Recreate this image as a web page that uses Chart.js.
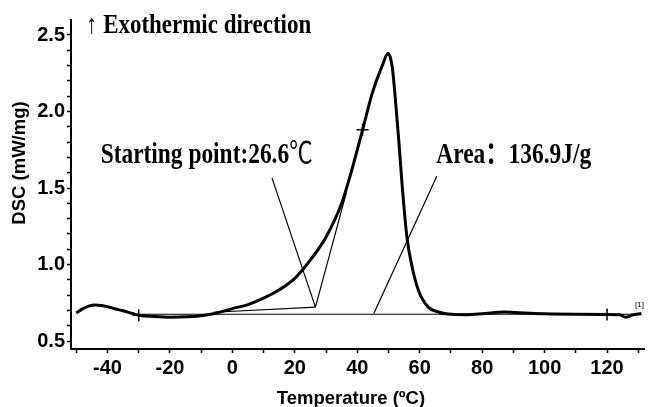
<!DOCTYPE html>
<html lang="en">

<head>
    <meta charset="UTF-8">
    <title>DSC curve</title>
    <script src="https://cdn.jsdelivr.net/npm/chart.js@4/dist/chart.umd.min.js"></script>
</head>
<style>
    body {
        margin: 0;
        background: #fff;
    }
</style>

<body>
    <canvas id="mychart" width="652" height="407"></canvas>
    <script>
        // DSC curve
        const tempC = [-50, -48, -46, -44, -42, -40, -38, -35, -32, -30, -25, -20, -15, -10, -5, 0, 5, 10, 15, 20, 25, 30,
            35, 38, 41.7, 44.8, 48, 49.9, 51.2, 52.2, 53.3, 54.4, 55.9, 57.5, 59.6, 62.8, 66, 69, 75, 80, 87, 95, 100, 110,
            120, 124, 126, 128, 131]
        const dscVal = [0.683, 0.71, 0.728, 0.735, 0.733, 0.725, 0.713, 0.698, 0.68, 0.668, 0.66, 0.656, 0.658, 0.666, 0.683,
            0.712, 0.738, 0.78, 0.835, 0.91, 1.03, 1.18, 1.40, 1.60, 1.88, 2.12, 2.30, 2.38, 2.29, 2.08, 1.81, 1.51, 1.18,
            0.99, 0.83, 0.72, 0.69, 0.676, 0.672, 0.678, 0.69, 0.682, 0.678, 0.675, 0.674, 0.672, 0.656, 0.67, 0.68]

        // "+" marks on the curve
        const crossT = [-30, 41.7, 120]
        const crossV = [0.668, 1.88, 0.674]

        // construction lines
        const baseT = [-30, 131]
        const baseV = [0.675, 0.675]
        const onsetT = [-6, 26.6]
        const onsetV = [0.688, 0.722]
        const tangentT = [26.6, 36.5]
        const tangentV = [0.722, 1.47]
        const leadStartT = [12.7, 26.6]
        const leadStartV = [1.565, 0.722]
        const leadAreaT = [65.5, 45.3]
        const leadAreaV = [1.578, 0.68]

        // axis ticks
        const xMin = -51.7, xMax = 132, xStep = 10, xLabelEvery = 20
        const yMin = 0.448, yMax = 2.598, yStep = 0.1, yLabelEvery = 0.5

        function pts(xs, ys) {
            let out = []
            for (let i = 0; i < xs.length; i++) {
                out.push({ x: xs[i], y: ys[i] })
            }
            return out
        }

        function thin(xs, ys) {
            return {
                data: pts(xs, ys),
                borderColor: '#000',
                borderWidth: 1.2,
                pointRadius: 0,
                tension: 0
            }
        }

        const tickFont = { family: "'Liberation Sans', Arial", size: 20, weight: 'bold' }
        const serif = "'Liberation Serif', 'Noto Sans CJK SC', serif"

        // text notes, anchored in data units; tail is drawn in normal weight
        const notes = [
            { text: '↑ Exothermic direction', tail: '', t: -46.9, v: 2.513, size: 27, sx: 0.85 },
            { text: 'Starting point:26.6', tail: '℃', t: -42.2, v: 1.663, size: 30, sx: 0.78 },
            { text: 'Area：136.9J/g', tail: '', t: 65.3, v: 1.663, size: 30, sx: 0.78 }
        ]

        const notesPlugin = {
            id: 'notes',
            afterDraw(chart) {
                const ctx = chart.ctx
                const xs = chart.scales.x
                const ys = chart.scales.y
                ctx.save()
                ctx.fillStyle = '#000'
                ctx.textBaseline = 'alphabetic'
                ctx.textAlign = 'left'
                notes.forEach(n => {
                    ctx.save()
                    ctx.translate(xs.getPixelForValue(n.t), ys.getPixelForValue(n.v))
                    ctx.scale(n.sx, 1)
                    ctx.font = 'bold ' + n.size + 'px ' + serif
                    ctx.fillText(n.text, 0, 0)
                    if (n.tail) {
                        const w = ctx.measureText(n.text).width
                        ctx.font = n.size + 'px ' + serif
                        ctx.fillText(n.tail, w, 0)
                    }
                    ctx.restore()
                })
                // little [1] marker at the end of the run
                ctx.font = '8px Arial'
                ctx.textAlign = 'center'
                ctx.fillText('[1]', xs.getPixelForValue(130.4), ys.getPixelForValue(0.72))

                // axis titles
                ctx.font = "bold 18.5px 'Liberation Sans', Arial"
                ctx.fillText('Temperature (ºC)', 351, 404)
                ctx.translate(25, 163)
                ctx.rotate(-Math.PI / 2)
                ctx.fillText('DSC (mW/mg)', 0, 0)
                ctx.restore()
            }
        }

        var ctx = document.getElementById('mychart')
        var myChart = new Chart(ctx, {
            type: 'line',
            data: {
                datasets: [
                    {
                        data: pts(tempC, dscVal),
                        borderColor: '#000',
                        borderWidth: 3,
                        pointRadius: 0,
                        cubicInterpolationMode: 'monotone'
                    },
                    thin(baseT, baseV),
                    thin(onsetT, onsetV),
                    thin(tangentT, tangentV),
                    thin(leadStartT, leadStartV),
                    thin(leadAreaT, leadAreaV),
                    {
                        data: pts(crossT, crossV),
                        showLine: false,
                        pointStyle: 'cross',
                        pointRadius: 6,
                        pointBorderWidth: 1.5,
                        pointBorderColor: '#000'
                    }
                ]
            },
            options: {
                responsive: false,
                animation: false,
                devicePixelRatio: 1,
                layout: { padding: { top: 20, right: 0, left: 0, bottom: 0 } },
                plugins: {
                    legend: { display: false },
                    tooltip: { enabled: false }
                },
                scales: {
                    x: {
                        type: 'linear',
                        min: xMin,
                        max: xMax,
                        ticks: {
                            stepSize: xStep,
                            autoSkip: false,
                            includeBounds: false,
                            maxRotation: 0,
                            padding: 3,
                            color: '#000',
                            font: tickFont,
                            callback: v => (Math.abs(v % xLabelEvery) < 1e-6 ? String(v) : '')
                        },
                        grid: { drawOnChartArea: false, color: '#000', tickLength: 4, tickWidth: 1.5 },
                        border: { color: '#000', width: 2 },
                        afterFit: s => { s.height = 58 }
                    },
                    y: {
                        min: yMin,
                        max: yMax,
                        ticks: {
                            stepSize: yStep,
                            autoSkip: false,
                            includeBounds: false,
                            padding: 2,
                            color: '#000',
                            font: tickFont,
                            callback: v => {
                                const r = v / yLabelEvery
                                return Math.abs(r - Math.round(r)) < 1e-6 ? v.toFixed(1) : ''
                            }
                        },
                        grid: { drawOnChartArea: false, color: '#000', tickLength: 4, tickWidth: 1.5 },
                        border: { color: '#000', width: 2 },
                        afterFit: s => { s.width = 71 }
                    }
                }
            },
            plugins: [notesPlugin]
        });
    </script>
</body>

</html>
